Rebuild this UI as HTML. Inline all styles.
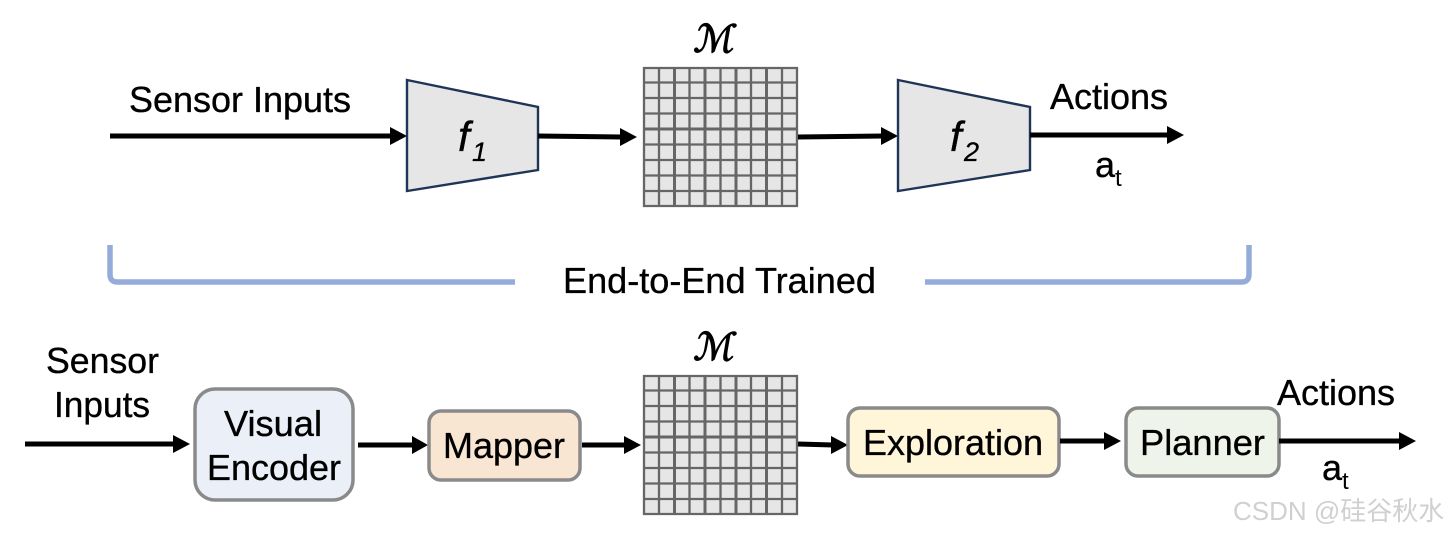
<!DOCTYPE html>
<html><head><meta charset="utf-8"><style>
html,body{margin:0;padding:0;background:#fff;width:1448px;height:536px;overflow:hidden}
svg{display:block}
text{font-family:"Liberation Sans","Noto Sans CJK SC",sans-serif;fill:#000}
.m{font-family:'DejaVu Serif','DejaVu Sans',serif;stroke:#000;stroke-width:1.1px}
.l{stroke:#000;stroke-width:.35px}
</style></head><body>
<svg width="1448" height="536" viewBox="0 0 1448 536" xmlns="http://www.w3.org/2000/svg">
<defs>
<g id="grid">
<rect x="0" y="0" width="155" height="140" fill="#e6e6e6"/>
<g stroke="#666" stroke-width="2.3" fill="none">
<path d="M1 0V140M16 0V140M31.5 0V140M46.5 0V140M62 0V140M77.5 0V140M93 0V140M108 0V140M123.5 0V140M139 0V140M154 0V140"/>
<path d="M0 1H155M0 15.5H155M0 31H155M0 46.5H155M0 62H155M0 77.5H155M0 93H155M0 108.5H155M0 124H155M0 139H155"/>
</g>
<g stroke="#666" stroke-width="3" fill="none"><path d="M31.5 0V140M62 0V140M93 0V140M123.5 0V140M0 62H155"/></g>
</g>
</defs>

<!-- top row -->
<text class="l" x="129" y="112" font-size="36.5" textLength="222" lengthAdjust="spacingAndGlyphs">Sensor Inputs</text>
<path d="M110 136H392" stroke="#000" stroke-width="5"/><path d="M390 127L407 136L390 145Z"/>
<path d="M407 80L538 107V170L407 191Z" fill="#e6e6e6" stroke="#1f3557" stroke-width="2.4"/>
<text class="l" x="458" y="151" font-size="42" font-style="italic" style="stroke-width:.4px">f</text><text class="l" x="472" y="161" font-size="27" font-style="italic" style="stroke-width:.3px">1</text>
<path d="M538 136L622 137" stroke="#000" stroke-width="5"/><path d="M620 128L637 137L620 146Z"/>
<text class="m" x="0" y="0" font-size="38" transform="translate(693 52) skewX(-10)">ℳ</text>
<use href="#grid" x="643" y="67"/>
<path d="M798 137L883 136" stroke="#000" stroke-width="5"/><path d="M881 127L898 136L881 145Z"/>
<path d="M898 80L1030 107V170L898 191Z" fill="#e6e6e6" stroke="#1f3557" stroke-width="2.4"/>
<text class="l" x="950" y="151" font-size="42" font-style="italic" style="stroke-width:.4px">f</text><text class="l" x="964" y="161" font-size="27" font-style="italic" style="stroke-width:.3px">2</text>
<path d="M1030 135H1168" stroke="#000" stroke-width="5"/><path d="M1167 126L1184 135L1167 144Z"/>
<text class="l" x="1050" y="109" font-size="36.5" textLength="118" lengthAdjust="spacingAndGlyphs">Actions</text>
<text class="l" x="1095" y="177" font-size="36">a</text><text x="1115" y="186" font-size="24">t</text>

<!-- bracket -->
<path d="M110 245V274Q110 282 117 282H515" fill="none" stroke="#95abda" stroke-width="5.5"/>
<path d="M925 282H1242Q1249 282 1249 274V245" fill="none" stroke="#95abda" stroke-width="5.5"/>
<text class="l" x="563" y="293" font-size="36.5" textLength="313" lengthAdjust="spacingAndGlyphs">End-to-End Trained</text>

<!-- bottom row -->
<text class="l" x="46" y="373" font-size="36.5" textLength="113" lengthAdjust="spacingAndGlyphs">Sensor</text>
<text class="l" x="54" y="417" font-size="36.5" textLength="96" lengthAdjust="spacingAndGlyphs">Inputs</text>
<path d="M25 444H175" stroke="#000" stroke-width="5"/><path d="M173 435L190 444L173 453Z"/>
<rect x="195" y="389" width="158" height="111" rx="20" fill="#eaeff8" stroke="#8a8a8a" stroke-width="3.5"/>
<text class="l" x="224" y="436" font-size="36.5" textLength="98" lengthAdjust="spacingAndGlyphs">Visual</text>
<text class="l" x="207" y="480" font-size="36.5" textLength="134" lengthAdjust="spacingAndGlyphs">Encoder</text>
<path d="M358 445H414" stroke="#000" stroke-width="5"/><path d="M412 436L428 445L412 454Z"/>
<rect x="429" y="411" width="151" height="69" rx="12" fill="#f8e6d2" stroke="#8a8a8a" stroke-width="3.5"/>
<text class="l" x="443" y="458" font-size="36.5" textLength="122" lengthAdjust="spacingAndGlyphs">Mapper</text>
<path d="M582 445H626" stroke="#000" stroke-width="5"/><path d="M624 436L641 445L624 454Z"/>
<text class="m" x="0" y="0" font-size="38" transform="translate(693 360) skewX(-10)">ℳ</text>
<use href="#grid" x="643" y="375"/>
<path d="M798 444L833 445" stroke="#000" stroke-width="5"/><path d="M831 436L848 445L831 454Z"/>
<rect x="848" y="408" width="211" height="68" rx="12" fill="#fff6da" stroke="#8a8a8a" stroke-width="3.5"/>
<text class="l" x="863" y="455" font-size="36.5" textLength="180" lengthAdjust="spacingAndGlyphs">Exploration</text>
<path d="M1060 441H1106" stroke="#000" stroke-width="5"/><path d="M1104 432L1121 441L1104 450Z"/>
<rect x="1126" y="408" width="153" height="68" rx="12" fill="#eff4ea" stroke="#8a8a8a" stroke-width="3.5"/>
<text class="l" x="1140" y="455" font-size="36.5" textLength="125" lengthAdjust="spacingAndGlyphs">Planner</text>
<path d="M1279 441H1402" stroke="#000" stroke-width="5"/><path d="M1399 432L1416 441L1399 450Z"/>
<text class="l" x="1277" y="405" font-size="36.5" textLength="118" lengthAdjust="spacingAndGlyphs">Actions</text>
<text class="l" x="1322" y="480" font-size="36">a</text><text x="1342" y="489" font-size="24">t</text>

<text x="1233" y="520" font-size="26" style="fill:#d0d0d0">CSDN @硅谷秋水</text>
</svg>
</body></html>
